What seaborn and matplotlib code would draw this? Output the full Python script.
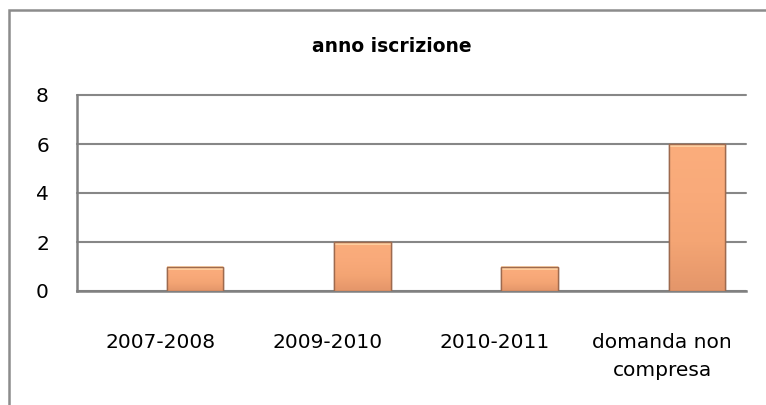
import matplotlib
matplotlib.use("Agg")
import matplotlib.pyplot as plt
import seaborn as sns
import pandas as pd
import numpy as np
from matplotlib.patches import Rectangle
from matplotlib.colors import LinearSegmentedColormap

categories = ["2007-2008", "2009-2010", "2010-2011", "domanda non\ncompresa"]
values = [1, 2, 1, 6]
empty_series = [float("nan")] * 4
title = "anno iscrizione"
yticks = [0, 2, 4, 6, 8]

df = pd.DataFrame({
    "cat": categories * 2,
    "val": empty_series + values,
    "serie": ["vuota"] * 4 + ["anno"] * 4,
})

sns.set_theme(style="white")
plt.rcParams["font.family"] = ["DejaVu Sans"]

fig = plt.figure(figsize=(7.66, 4.05), dpi=100)
ax = fig.add_axes([76.7 / 766, (405 - 291) / 405, (746 - 76.7) / 766, (291 - 95) / 405])

sns.barplot(data=df, x="cat", y="val", hue="serie", hue_order=["vuota", "anno"],
            order=categories, width=0.828, gap=0.18, dodge=True, saturation=1,
            palette={"vuota": "#F6A676", "anno": "#F6A676"},
            edgecolor="#9E6A4E", linewidth=1.0, legend=False, ax=ax, zorder=3)

# subtle bevel shading over each bar
grad = np.linspace(0, 1, 100).reshape(-1, 1)
cmap = LinearSegmentedColormap.from_list("bev", ["#E4966A", "#F4A574", "#F9AA7A", "#FBAD7C"])
for p in list(ax.patches):
    h = p.get_height()
    if np.isnan(h) or h == 0:
        continue
    x0, y0, w = p.get_x(), p.get_y(), p.get_width()
    im = ax.imshow(grad, extent=[x0, x0 + w, y0, y0 + h], origin="lower",
                   aspect="auto", cmap=cmap, zorder=3.5)
    im.set_clip_path(p)
    cap = 0.13
    ax.add_patch(Rectangle((x0, y0 + h - cap), w, cap, facecolor="#FFD2A4",
                           edgecolor="none", alpha=0.9, zorder=3.6))
    ax.add_patch(Rectangle((x0, y0), w, h, fill=False, edgecolor="#9E6A4E",
                           linewidth=1.0, zorder=3.7))

ax.set_ylim(0, 8)
ax.set_yticks(yticks)
ax.set_xlim(-0.5, 3.5)
ax.set_aspect("auto")
ax.yaxis.grid(True, color="#878787", linewidth=1.5, zorder=0)
for gl in ax.yaxis.get_gridlines():
    gl.set_clip_on(False)
ax.set_axisbelow(True)
for s in ["top", "right"]:
    ax.spines[s].set_visible(False)
for s in ["left", "bottom"]:
    ax.spines[s].set_color("#808080")
    ax.spines[s].set_linewidth(1.8)
ax.set_xlabel("")
ax.set_ylabel("")
ax.tick_params(axis="x", length=0, pad=30, labelsize=14.5, labelcolor="black")
ax.tick_params(axis="y", length=0, pad=20, labelsize=14.5, labelcolor="black")
for lbl in ax.get_xticklabels():
    lbl.set_linespacing(1.6)

fig.text(391.5 / 766, 1 - 47 / 405, title, ha="center", va="center",
         fontsize=13.5, fontweight="bold", color="black")

fig.patches.append(Rectangle((9 / 766, -0.1), 1.2, 1 - 10 / 405 + 0.1,
                             transform=fig.transFigure, fill=False,
                             edgecolor="#8C8C8C", linewidth=1.8, zorder=0))

fig.savefig("out.png", dpi=100, facecolor="white")
